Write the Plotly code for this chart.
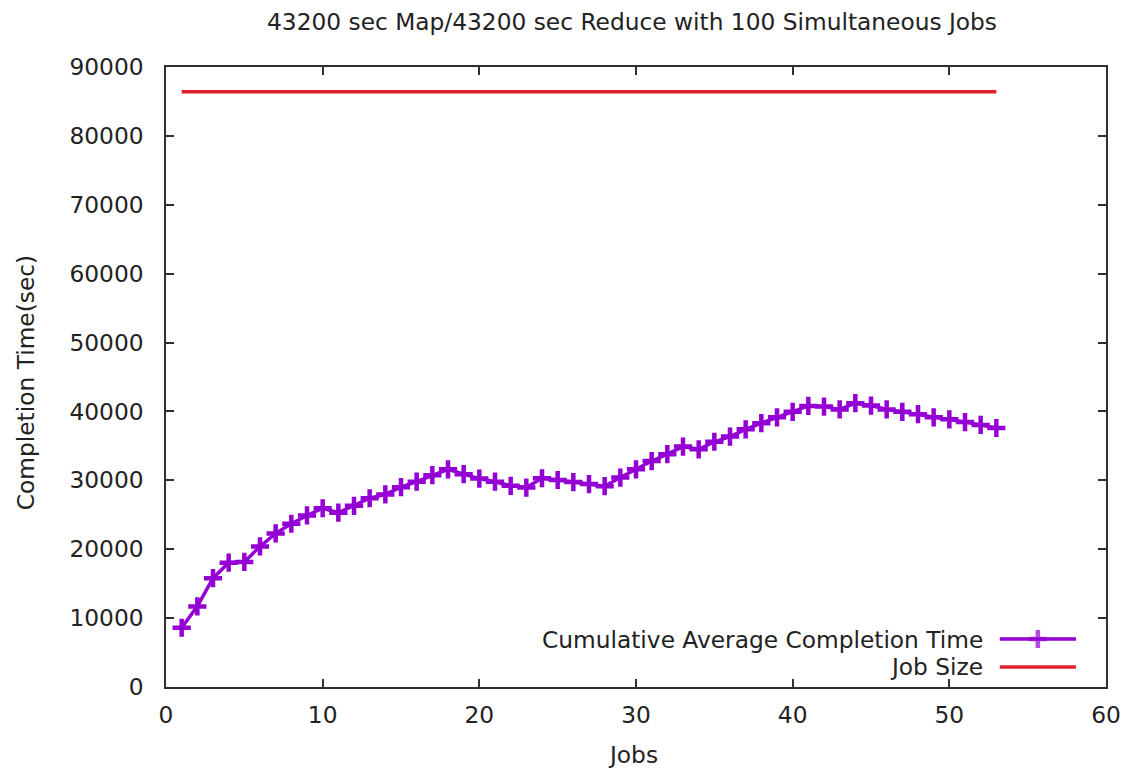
import plotly.graph_objects as go

# cumulative average completion time per job (sec)
jobs = list(range(1, 54))
avg_completion = [8600, 11700, 15800, 18050, 18150, 20400, 22300, 23700, 24900, 25950,
                  25300, 26300, 27400, 27950, 29000, 29800, 30750, 31600, 30900, 30250,
                  29800, 29200, 28950, 30300, 30050, 29750, 29450, 29150, 30400, 31600,
                  32800, 33800, 34900, 34500, 35600, 36350, 37400, 38300, 39150, 39950,
                  40800, 40700, 40300, 41200, 40850, 40300, 39950, 39600, 39150, 38850,
                  38450, 38050, 37600]
job_size = [86400] * len(jobs)

purple = "#9400D3"
red = "#E0202A"
axis_col = "#303030"
font = dict(family="DejaVu Sans", size=23.3, color="#222222")

fig = go.Figure()
fig.add_trace(go.Scatter(x=jobs, y=avg_completion, mode="lines+markers",
                         line=dict(color=purple, width=3.5),
                         marker=dict(symbol="cross-thin-open", size=13,
                                     line=dict(color=purple, width=4.5)),
                         showlegend=False))
fig.add_trace(go.Scatter(x=jobs, y=job_size, mode="lines",
                         line=dict(color=red, width=3.5), showlegend=False))

# gnuplot-style key: text right-aligned, sample on the right
fig.add_trace(go.Scatter(x=[0.887, 0.9275, 0.968], y=[0.0774] * 3, xaxis="x2", yaxis="y2",
                         mode="lines+markers", line=dict(color=purple, width=3.5),
                         marker=dict(symbol="cross-thin-open", size=[0, 13, 0],
                                     line=dict(color=purple, width=4.5)),
                         showlegend=False, hoverinfo="skip"))
fig.add_trace(go.Scatter(x=[0.887, 0.968], y=[0.0323, 0.0323], xaxis="x2", yaxis="y2",
                         mode="lines", line=dict(color=red, width=3.5),
                         showlegend=False, hoverinfo="skip"))
for txt, yy in [("Cumulative Average Completion Time", 0.0774), ("Job Size", 0.0323)]:
    fig.add_annotation(text=txt, x=0.871, y=yy, xref="x2", yref="y2",
                       xanchor="right", yanchor="middle", showarrow=False, font=font)

# axis titles placed like gnuplot's
fig.add_annotation(text="Completion Time(sec)", x=-0.15, y=0.49, xref="paper", yref="paper",
                   textangle=-90, xanchor="center", yanchor="middle", showarrow=False, font=font)
fig.add_annotation(text="Jobs", x=0.497, y=-0.109, xref="paper", yref="paper",
                   xanchor="center", yanchor="middle", showarrow=False, font=font)

axis_common = dict(showline=True, linecolor=axis_col, linewidth=1.5, mirror="ticks",
                   ticks="inside", ticklen=8, tickwidth=1.5, tickcolor=axis_col,
                   showgrid=False, zeroline=False, tickfont=font, automargin=False)
fig.update_layout(
    width=1128, height=768,
    margin=dict(l=166, r=22, t=67, b=81),
    plot_bgcolor="white", paper_bgcolor="white",
    font=font,
    title=dict(text="43200 sec Map/43200 sec Reduce with 100 Simultaneous Jobs",
               x=0.5603, xanchor="center", y=0.9714, yanchor="middle", font=font),
    xaxis=dict(range=[0, 60], dtick=10, ticklabelstandoff=6, ticklabeloverflow="allow",
               **axis_common),
    yaxis=dict(range=[0, 90000], dtick=10000, tickformat="d", ticklabelstandoff=16,
               **axis_common),
    xaxis2=dict(range=[0, 1], overlaying="x", visible=False),
    yaxis2=dict(range=[0, 1], overlaying="y", visible=False),
)
# drop the browser's default body margin so the figure fills the window
fig.write_html("out.html", config={"displayModeBar": False},
               post_script="document.body.style.margin='0';")
